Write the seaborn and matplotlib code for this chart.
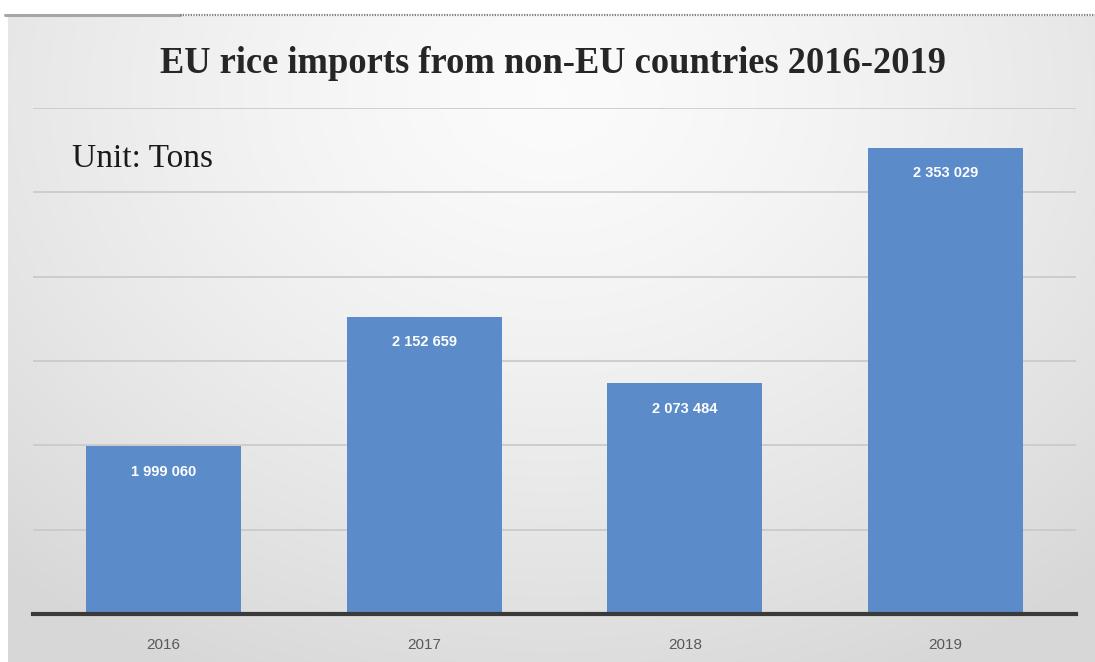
import numpy as np
import pandas as pd
import matplotlib
matplotlib.use("Agg")
import matplotlib.pyplot as plt
import seaborn as sns

# Data
years = ["2016", "2017", "2018", "2019"]
imports_tons = [1999060, 2152659, 2073484, 2353029]
y_ticks = [1800000, 1900000, 2000000, 2100000, 2200000, 2300000, 2400000]

title_text = "EU rice imports from non-EU countries 2016-2019"
unit_text = "Unit: Tons"

sns.set_theme(style="white")
plt.rcParams["font.family"] = ["Liberation Sans", "DejaVu Sans"]

W, H = 1095, 662
fig = plt.figure(figsize=(W / 100, H / 100), dpi=100)
fig.patch.set_facecolor("white")

# Soft radial backdrop for the chart area
bg = fig.add_axes([8 / W, 0, 1 - 8 / W, 1 - 16 / H])
ny, nx = 300, 500
yy, xx = np.mgrid[0:1:ny * 1j, 0:1:nx * 1j]
r = np.sqrt(((xx - 0.5) / 0.75) ** 2 + ((yy - 0.12) / 1.0) ** 2)
r = np.clip(r, 0, 1)
shade = 0.985 - 0.14 * r ** 1.4
bg.imshow(np.dstack([shade, shade, shade]), extent=[0, 1, 1, 0], aspect="auto",
          interpolation="bilinear")
bg.set_axis_off()

# Header rule: solid grey segment followed by a dotted run
fig.add_artist(plt.Line2D([5 / W, 180 / W], [1 - 15 / H, 1 - 15 / H],
                          color="#a6a6a6", lw=2.2, transform=fig.transFigure))
fig.add_artist(plt.Line2D([180 / W, 1], [1 - 15 / H, 1 - 15 / H],
                          color="#7f7f7f", lw=1.6, ls=(0, (0.6, 0.6)),
                          transform=fig.transFigure))

ax = fig.add_axes([33 / W, 1 - 614 / H, (1076 - 33) / W, (614 - 108) / H])
ax.patch.set_alpha(0)

df = pd.DataFrame({"year": years, "tons": imports_tons})
sns.barplot(data=df, x="year", y="tons", color="#5b8bc8", saturation=1,
            width=0.595, linewidth=0, ax=ax, zorder=3)

ax.set_ylim(y_ticks[0], y_ticks[-1])
ax.set_yticks(y_ticks)
ax.yaxis.grid(True, color="#c8c8c8", lw=1.2, zorder=0)
ax.set_axisbelow(True)
ax.tick_params(axis="y", length=0, labelleft=False)
ax.tick_params(axis="x", length=0, pad=17, labelsize=11, labelcolor="#595959")
ax.set_xlabel("")
ax.set_ylabel("")
for s in ["left", "right", "top"]:
    ax.spines[s].set_visible(False)
ax.spines["bottom"].set_color("#3a3a3a")
ax.spines["bottom"].set_linewidth(3)
ax.spines["bottom"].set_zorder(5)

for i, v in enumerate(imports_tons):
    label = f"{v:,}".replace(",", " ")
    ax.annotate(label, xy=(i, v), xytext=(0, -18.5), textcoords="offset points",
                ha="center", va="center", color="white", fontsize=10.5,
                fontweight="bold", zorder=6)

fig.text(553 / W, 1 - 73 / H, title_text, ha="center", va="baseline",
         family=["Liberation Serif", "DejaVu Serif"], fontweight="bold",
         fontsize=26.3, color="#262626")
fig.text(72 / W, 1 - 167 / H, unit_text, ha="left", va="baseline",
         family=["Liberation Serif", "DejaVu Serif"], fontsize=24,
         color="#1a1a1a")

fig.savefig("out.png", dpi=100)
